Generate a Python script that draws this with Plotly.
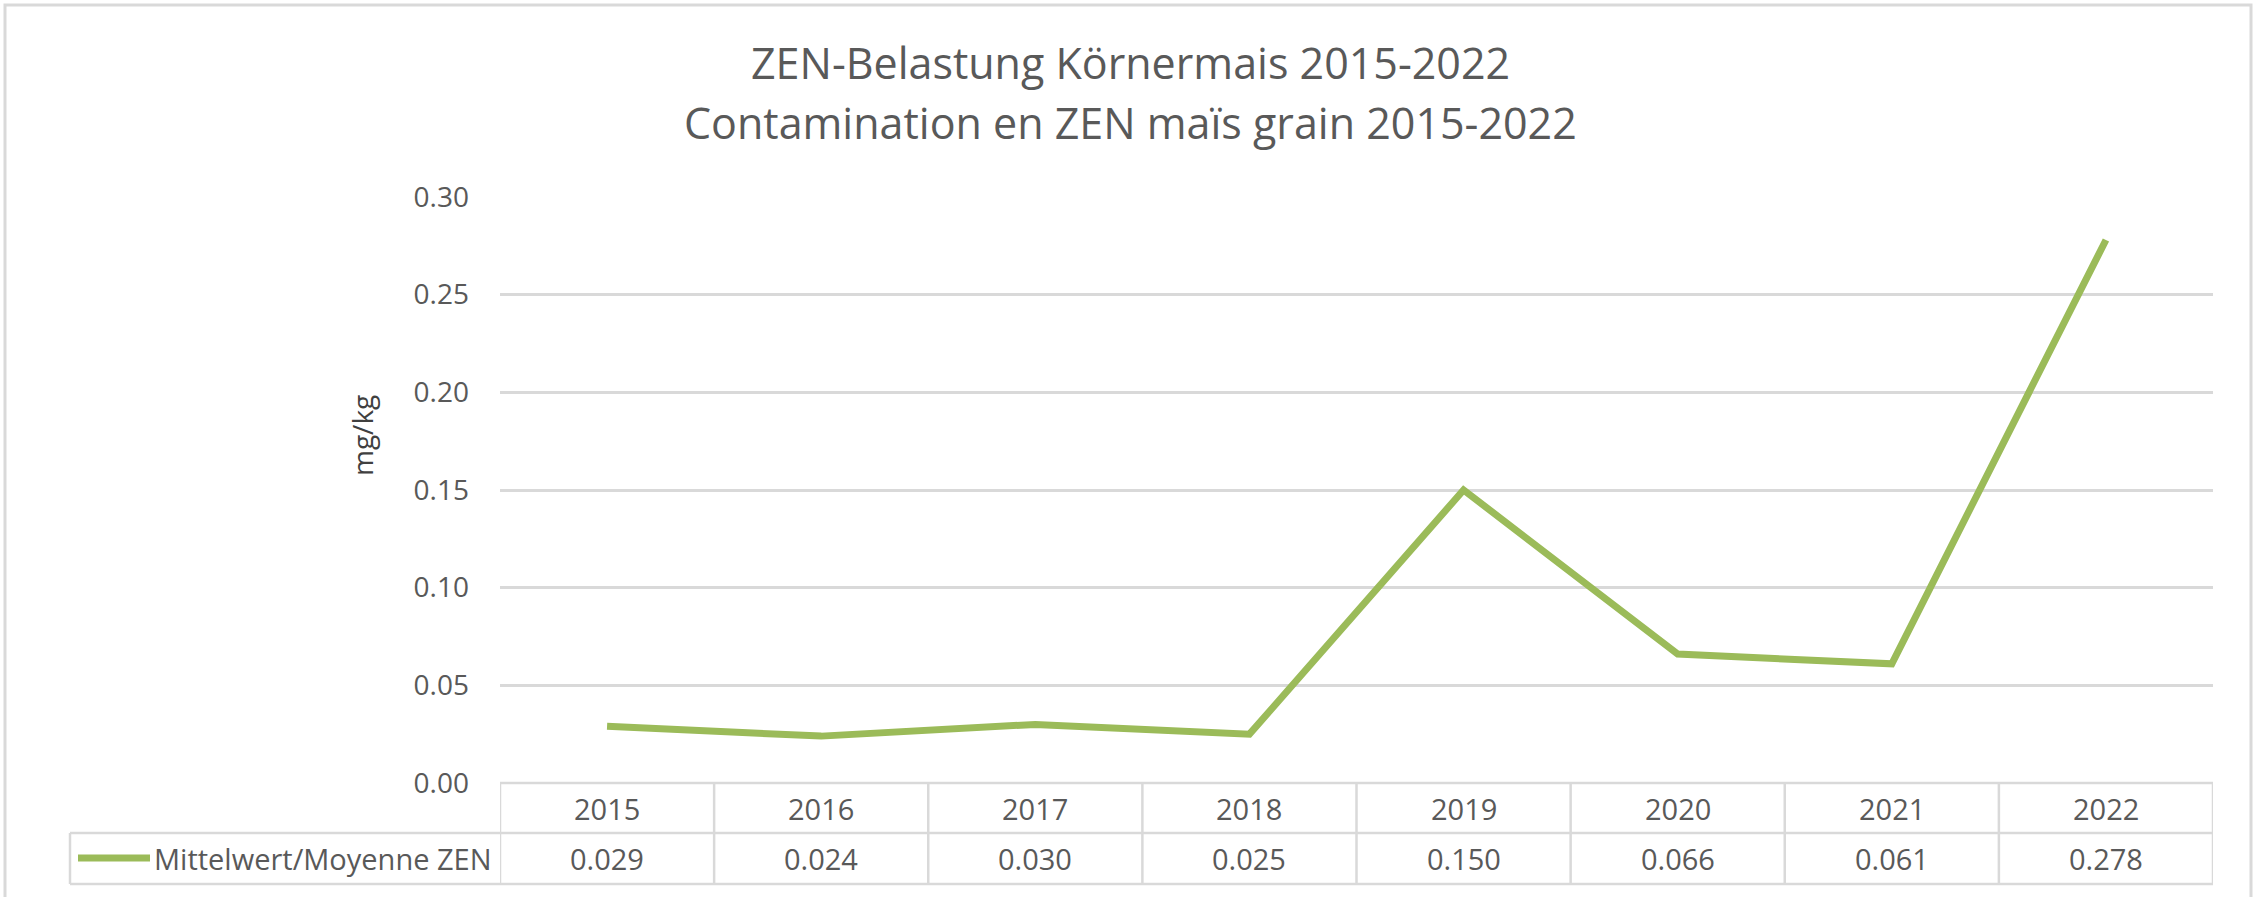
import plotly.graph_objects as go

# ---- data ----
years = ["2015", "2016", "2017", "2018", "2019", "2020", "2021", "2022"]
values = [0.029, 0.024, 0.030, 0.025, 0.150, 0.066, 0.061, 0.278]
series_name = "Mittelwert/Moyenne ZEN"
title_lines = ["ZEN-Belastung Körnermais 2015-2022",
               "Contamination en ZEN maïs grain 2015-2022"]
y_title = "mg/kg"
y_ticks = [0.00, 0.05, 0.10, 0.15, 0.20, 0.25, 0.30]

# ---- layout geometry (pixels) ----
W, H = 2257, 897
L, R, T, B = 500, 2213, 197, 783
pw, ph = R - L, B - T


def px(x):
    return (x - L) / pw


def py(y):
    return (B - y) / ph


FONT = "Open Sans"
TXT = "#595959"
GRID = "#d9d9d9"
GREEN = "#9BBB59"

fig = go.Figure()
fig.add_trace(go.Scatter(x=years, y=values, mode="lines", name=series_name,
                         line=dict(color=GREEN, width=7), showlegend=False))

shapes = []
annotations = []

# title
annotations.append(dict(text=title_lines[0], x=px(1130), y=py(63), xref="paper", yref="paper",
                        showarrow=False, xanchor="center", yanchor="middle",
                        font=dict(family=FONT, size=43, color=TXT)))
annotations.append(dict(text=title_lines[1], x=px(1130), y=py(123), xref="paper", yref="paper",
                        showarrow=False, xanchor="center", yanchor="middle",
                        font=dict(family=FONT, size=43, color=TXT)))
# y title
annotations.append(dict(text=y_title, x=px(362), y=py(436), xref="paper", yref="paper",
                        showarrow=False, textangle=-90, xanchor="center", yanchor="middle",
                        font=dict(family=FONT, size=28, color="#404040")))

# data table
row_top, row_mid, row_bot = 783, 833, 884
leg_left = 70
lw = 2.5
n = len(years)
shapes.append(dict(type="line", xref="x", yref="paper", x0=-0.5, x1=n - 0.5,
                   y0=py(row_top), y1=py(row_top), line=dict(color=GRID, width=lw)))
for yy in (row_mid, row_bot):
    shapes.append(dict(type="line", xref="paper", yref="paper", x0=px(leg_left), x1=1,
                       y0=py(yy), y1=py(yy), line=dict(color=GRID, width=lw)))
for i in range(n + 1):
    shapes.append(dict(type="line", xref="x", yref="paper", x0=i - 0.5, x1=i - 0.5,
                       y0=py(row_top), y1=py(row_bot), line=dict(color=GRID, width=lw)))
shapes.append(dict(type="line", xref="paper", yref="paper", x0=px(leg_left), x1=px(leg_left),
                   y0=py(row_mid), y1=py(row_bot), line=dict(color=GRID, width=lw)))

for i, (yr, v) in enumerate(zip(years, values)):
    annotations.append(dict(text=yr, x=i, y=py((row_top + row_mid) / 2), xref="x", yref="paper",
                            showarrow=False, xanchor="center", yanchor="middle",
                            font=dict(family=FONT, size=29, color=TXT)))
    annotations.append(dict(text=f"{v:.3f}", x=i, y=py((row_mid + row_bot) / 2), xref="x",
                            yref="paper", showarrow=False, xanchor="center", yanchor="middle",
                            font=dict(family=FONT, size=29, color=TXT)))

# legend key inside table
shapes.append(dict(type="line", xref="paper", yref="paper", x0=px(78), x1=px(150),
                   y0=py(858), y1=py(858), line=dict(color=GREEN, width=7)))
annotations.append(dict(text=series_name, x=px(152), y=py(858), xref="paper", yref="paper",
                        showarrow=False, xanchor="left", yanchor="middle",
                        font=dict(family=FONT, size=29, color=TXT)))

# outer chart border
shapes.append(dict(type="rect", xref="paper", yref="paper", x0=px(5), x1=px(2251),
                   y0=py(900), y1=py(5), line=dict(color=GRID, width=3), layer="below"))

fig.update_layout(
    width=W, height=H,
    margin=dict(l=L, r=W - R, t=T, b=H - B, pad=0),
    paper_bgcolor="white", plot_bgcolor="white",
    showlegend=False,
    shapes=shapes, annotations=annotations,
    xaxis=dict(type="category", range=[-0.5, n - 0.5], showticklabels=False,
               showgrid=False, zeroline=False, showline=False, fixedrange=True),
    yaxis=dict(range=[0, 0.30], tickvals=y_ticks, tickformat=".2f", showgrid=True,
               gridcolor=GRID, gridwidth=2.5, zeroline=False, showline=False,
               ticks="", ticklabelstandoff=30,
               tickfont=dict(family=FONT, size=28, color=TXT)),
)

fig.write_html("out.html", config={"displayModeBar": False},
               post_script="document.body.style.margin='0';document.body.style.overflow='hidden';")
